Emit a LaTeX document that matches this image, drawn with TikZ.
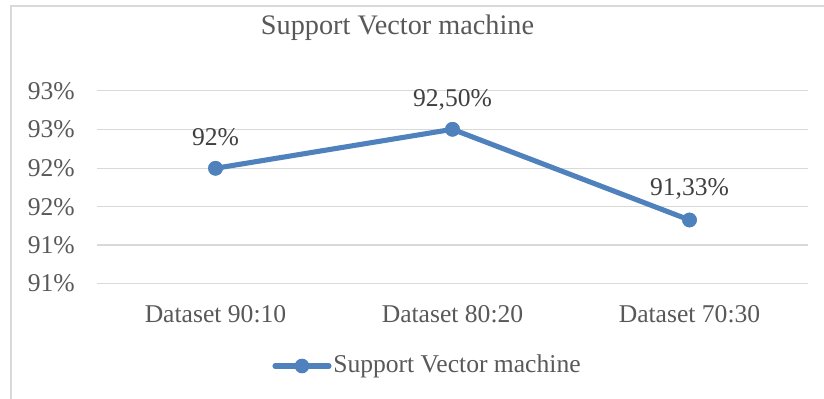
\documentclass[tikz,border=0pt]{standalone}
\usepackage{fontspec}
\setmainfont{Liberation Serif}
\begin{document}
\begin{tikzpicture}[x=0.75pt,y=-0.75pt,
  frame/.style={draw=black!15,line width=1.5pt},
  grid/.style={draw=black!15,line width=1.1pt},
  series/.style={draw=serblue,line width=3.8pt,line join=round,line cap=round},
  dot/.style={circle,fill=serblue,inner sep=0pt,minimum size=11pt},
  ticklbl/.style={text=black!65,font=\fontsize{19.2}{21}\selectfont,inner sep=0pt},
  vallbl/.style={text=black!75,font=\fontsize{19.2}{21}\selectfont,inner sep=0pt},
  titlelbl/.style={text=black!65,font=\fontsize{21.2}{23}\selectfont,inner sep=0pt}]
\definecolor{serblue}{RGB}{79,129,189}
\useasboundingbox (0,0) rectangle (824,399);
\fill[white] (0,0) rectangle (824,399);
% chart area frame (left and top edges)
\draw[frame] (10.5,399) -- (10.5,6.5) -- (824,6.5);
% title
\node[titlelbl] (title) at (397.5,28) {Support Vector machine};
% horizontal gridlines and value axis labels
\foreach \yy/\lab [count=\i] in {90.7/93\%,129.3/93\%,168.3/92\%,206.7/92\%,245/91\%,283.3/91\%}{
  \coordinate (gl\i) at (97,\yy);
  \coordinate (gr\i) at (808,\yy);
  \draw[grid] (gl\i) -- (gr\i);
  \node[ticklbl,anchor=east] (ylab\i) at (75,\yy) {\lab};
}
% category labels
\node[ticklbl] (xlab1) at (215.5,314) {Dataset 90:10};
\node[ticklbl] (xlab2) at (452.5,314) {Dataset 80:20};
\node[ticklbl] (xlab3) at (689.5,314) {Dataset 70:30};
% data series
\node[dot] (p1) at (215.5,168.3) {};
\node[dot] (p2) at (452.5,129.3) {};
\node[dot] (p3) at (689.5,220) {};
\draw[series] (p1.center) -- (p2.center) -- (p3.center);
\node[dot] at (p1) {};
\node[dot] at (p2) {};
\node[dot] at (p3) {};
% data labels
\node[vallbl] (v1) at (215.5,137.5) {92\%};
\node[vallbl] (v2) at (452.5,99.5) {92,50\%};
\node[vallbl] (v3) at (689.5,189) {91,33\%};
% legend
\coordinate (legA) at (275,366);
\coordinate (legB) at (329,366);
\draw[series] (legA) -- (legB);
\node[dot] (legdot) at (302,366) {};
\node[ticklbl,anchor=west] (legtext) at (333,366) {Support Vector machine};
\end{tikzpicture}
\end{document}
